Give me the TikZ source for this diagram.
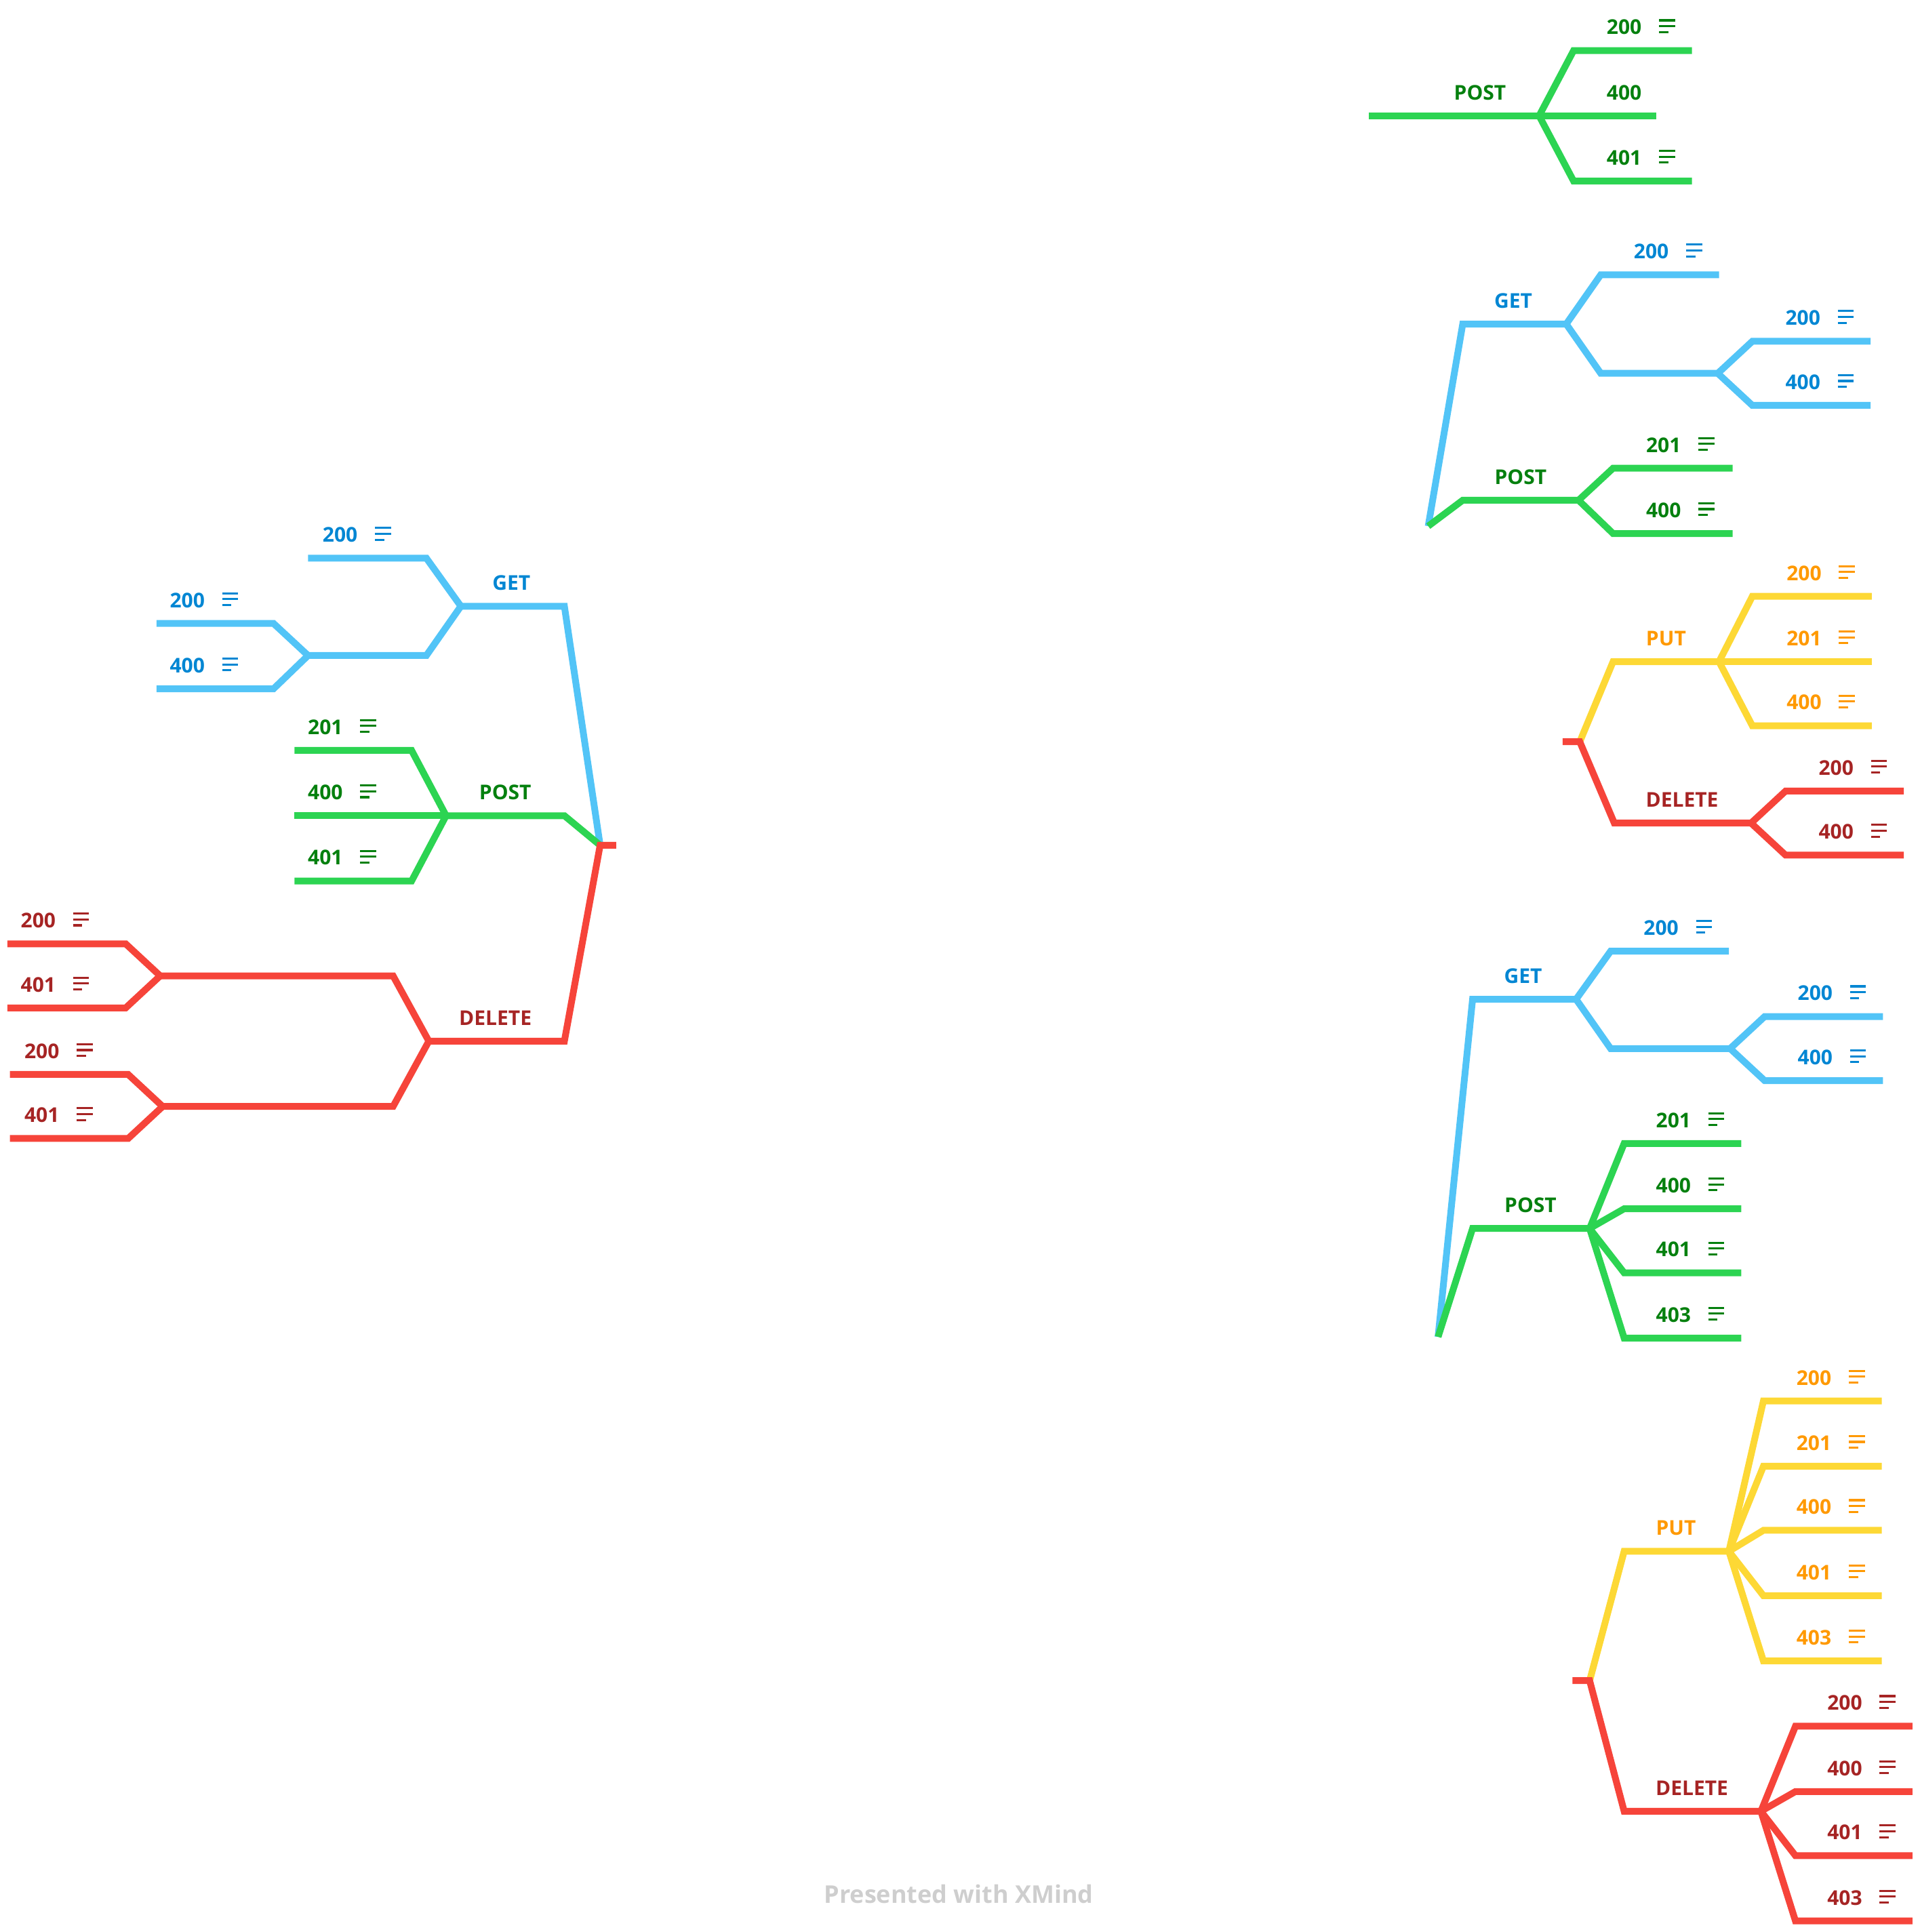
\documentclass[tikz,border=0pt]{standalone}
\usepackage{fontspec}
\setmainfont{Open Sans}
\definecolor{lblue}{RGB}{82,196,247}
\definecolor{lgreen}{RGB}{44,212,82}
\definecolor{lyellow}{RGB}{253,216,53}
\definecolor{lred}{RGB}{246,68,58}
\definecolor{tblue}{RGB}{0,134,211}
\definecolor{tgreen}{RGB}{4,128,14}
\definecolor{torange}{RGB}{255,153,0}
\definecolor{tred}{RGB}{166,36,36}
\definecolor{footgray}{RGB}{206,206,206}

\begin{document}
\begin{tikzpicture}[x=1pt,y=-1pt,line join=miter,
    lbl/.style={font=\fontsize{16.5}{20}\selectfont\bfseries,inner sep=0pt,anchor=base,yshift=-1pt},
    bl/.style={draw=lblue,line width=5.5pt},
    gl/.style={draw=lgreen,line width=5.5pt},
    yl/.style={draw=lyellow,line width=5.5pt},
    rl/.style={draw=lred,line width=5.5pt},
    memo/.pic={\draw[line width=1.7pt] (14,-11.5) -- (27,-11.5) (14,-6.8) -- (27,-6.8) (14,-2) -- (21.5,-2);}]
\useasboundingbox (0,0) rectangle (1558,1568);

% top POST
\coordinate (aRoot) at (1111,94);
\coordinate (aF) at (1249,94);
\draw[gl] (aRoot) -- (aF);
\node[lbl,tgreen] (aPost) at (1201,80) {POST};
\draw[gl] (aF) -- (1277,41) -- (1373,41) coordinate (a200e);
\draw[gl] (aF) -- (1344,94) coordinate (a400e);
\draw[gl] (aF) -- (1277,147) -- (1373,147) coordinate (a401e);
\node[lbl,tgreen] (a200) at (1318,27) {200};
\pic[color=tgreen] at (a200.base east) {memo};
\node[lbl,tgreen] (a400) at (1318,80) {400};
\node[lbl,tgreen] (a401) at (1318,133) {401};
\pic[color=tgreen] at (a401.base east) {memo};

% GET / POST
\coordinate (bRoot) at (1159,427);
\coordinate (bG) at (1271,263);
\coordinate (bG2) at (1394,303);
\coordinate (bP) at (1281,406);
\draw[bl] (bRoot) -- (1187,263) -- (bG);
\node[lbl,tblue] (bGet) at (1228,249) {GET};
\draw[bl] (bG) -- (1299,223) -- (1395,223) coordinate (b200e);
\draw[bl] (bG) -- (1299,303) -- (bG2);
\draw[bl] (bG2) -- (1422,277) -- (1518,277) coordinate (b200xe);
\draw[bl] (bG2) -- (1422,329) -- (1518,329) coordinate (b400xe);
\node[lbl,tblue] (b200) at (1340,209) {200};
\pic[color=tblue] at (b200.base east) {memo};
\node[lbl,tblue] (b200x) at (1463,263) {200};
\pic[color=tblue] at (b200x.base east) {memo};
\node[lbl,tblue] (b400x) at (1463,315) {400};
\pic[color=tblue] at (b400x.base east) {memo};
\draw[gl] (bRoot) -- (1187,406) -- (bP);
\node[lbl,tgreen] (bPost) at (1234,392) {POST};
\draw[gl] (bP) -- (1309,380) -- (1406,380) coordinate (b201e);
\draw[gl] (bP) -- (1309,433) -- (1406,433) coordinate (b400e);
\node[lbl,tgreen] (b201) at (1350,366) {201};
\pic[color=tgreen] at (b201.base east) {memo};
\node[lbl,tgreen] (b400) at (1350,419) {400};
\pic[color=tgreen] at (b400.base east) {memo};

% PUT / DELETE
\coordinate (cTick) at (1268,602);
\coordinate (cRoot) at (1282,602);
\coordinate (cP) at (1395,537);
\coordinate (cD) at (1421,668);
\draw[yl] (cRoot) -- (1309,537) -- (cP);
\node[lbl,torange] (cPut) at (1352,523) {PUT};
\draw[yl] (cP) -- (1422,484) -- (1519,484) coordinate (c200e);
\draw[yl] (cP) -- (1519,537) coordinate (c201e);
\draw[yl] (cP) -- (1422,589) -- (1519,589) coordinate (c400e);
\node[lbl,torange] (c200) at (1464,470) {200};
\pic[color=torange] at (c200.base east) {memo};
\node[lbl,torange] (c201) at (1464,523) {201};
\pic[color=torange] at (c201.base east) {memo};
\node[lbl,torange] (c400) at (1464,575) {400};
\pic[color=torange] at (c400.base east) {memo};
\draw[rl] (cTick) -- (cRoot) -- (1310,668) -- (cD);
\node[lbl,tred] (cDel) at (1365,654) {DELETE};
\draw[rl] (cD) -- (1449,642) -- (1545,642) coordinate (cd200e);
\draw[rl] (cD) -- (1449,694) -- (1545,694) coordinate (cd400e);
\node[lbl,tred] (cd200) at (1490,628) {200};
\pic[color=tred] at (cd200.base east) {memo};
\node[lbl,tred] (cd400) at (1490,680) {400};
\pic[color=tred] at (cd400.base east) {memo};

% GET / POST (lower)
\coordinate (dRoot) at (1167,1085);
\coordinate (dG) at (1279,811);
\coordinate (dG2) at (1404,851);
\coordinate (dP) at (1290,997);
\draw[bl] (dRoot) -- (1195,811) -- (dG);
\node[lbl,tblue] (dGet) at (1236,797) {GET};
\draw[bl] (dG) -- (1307,772) -- (1403,772) coordinate (d200e);
\draw[bl] (dG) -- (1307,851) -- (dG2);
\draw[bl] (dG2) -- (1432,825) -- (1528,825) coordinate (d200xe);
\draw[bl] (dG2) -- (1432,877) -- (1528,877) coordinate (d400xe);
\node[lbl,tblue] (d200) at (1348,758) {200};
\pic[color=tblue] at (d200.base east) {memo};
\node[lbl,tblue] (d200x) at (1473,811) {200};
\pic[color=tblue] at (d200x.base east) {memo};
\node[lbl,tblue] (d400x) at (1473,863) {400};
\pic[color=tblue] at (d400x.base east) {memo};
\draw[gl] (dRoot) -- (1195,997) -- (dP);
\node[lbl,tgreen] (dPost) at (1242,983) {POST};
\draw[gl] (dP) -- (1318,928) -- (1413,928) coordinate (d201e);
\draw[gl] (dP) -- (1318,981) -- (1413,981) coordinate (d400e);
\draw[gl] (dP) -- (1318,1033) -- (1413,1033) coordinate (d401e);
\draw[gl] (dP) -- (1318,1086) -- (1413,1086) coordinate (d403e);
\node[lbl,tgreen] (d201) at (1358,914) {201};
\pic[color=tgreen] at (d201.base east) {memo};
\node[lbl,tgreen] (d400) at (1358,967) {400};
\pic[color=tgreen] at (d400.base east) {memo};
\node[lbl,tgreen] (d401) at (1358,1019) {401};
\pic[color=tgreen] at (d401.base east) {memo};
\node[lbl,tgreen] (d403) at (1358,1072) {403};
\pic[color=tgreen] at (d403.base east) {memo};

% PUT / DELETE (lower)
\coordinate (eTick) at (1276,1364);
\coordinate (eRoot) at (1290,1364);
\coordinate (eP) at (1403,1259);
\coordinate (eD) at (1429,1470);
\draw[yl] (eRoot) -- (1318,1259) -- (eP);
\node[lbl,torange] (ePut) at (1360,1245) {PUT};
\draw[yl] (eP) -- (1431,1137) -- (1527,1137) coordinate (e200e);
\draw[yl] (eP) -- (1431,1190) -- (1527,1190) coordinate (e201e);
\draw[yl] (eP) -- (1431,1242) -- (1527,1242) coordinate (e400e);
\draw[yl] (eP) -- (1431,1295) -- (1527,1295) coordinate (e401e);
\draw[yl] (eP) -- (1431,1348) -- (1527,1348) coordinate (e403e);
\node[lbl,torange] (e200) at (1472,1123) {200};
\pic[color=torange] at (e200.base east) {memo};
\node[lbl,torange] (e201) at (1472,1176) {201};
\pic[color=torange] at (e201.base east) {memo};
\node[lbl,torange] (e400) at (1472,1228) {400};
\pic[color=torange] at (e400.base east) {memo};
\node[lbl,torange] (e401) at (1472,1281) {401};
\pic[color=torange] at (e401.base east) {memo};
\node[lbl,torange] (e403) at (1472,1334) {403};
\pic[color=torange] at (e403.base east) {memo};
\draw[rl] (eTick) -- (eRoot) -- (1318,1470) -- (eD);
\node[lbl,tred] (eDel) at (1373,1456) {DELETE};
\draw[rl] (eD) -- (1457,1401) -- (1552,1401) coordinate (ed200e);
\draw[rl] (eD) -- (1457,1454) -- (1552,1454) coordinate (ed400e);
\draw[rl] (eD) -- (1457,1506) -- (1552,1506) coordinate (ed401e);
\draw[rl] (eD) -- (1457,1559) -- (1552,1559) coordinate (ed403e);
\node[lbl,tred] (ed200) at (1497,1387) {200};
\pic[color=tred] at (ed200.base east) {memo};
\node[lbl,tred] (ed400) at (1497,1440) {400};
\pic[color=tred] at (ed400.base east) {memo};
\node[lbl,tred] (ed401) at (1497,1492) {401};
\pic[color=tred] at (ed401.base east) {memo};
\node[lbl,tred] (ed403) at (1497,1545) {403};
\pic[color=tred] at (ed403.base east) {memo};

% left side
\coordinate (fRoot) at (487,686);
\coordinate (fTick) at (500,686);
\coordinate (fG) at (374,492);
\coordinate (fG2) at (250,532);
\coordinate (fP) at (362,662);
\coordinate (fD) at (348,845);
\coordinate (fD1) at (130,792);
\coordinate (fD2) at (132,898);
\draw[bl] (fRoot) -- (458,492) -- (fG);
\node[lbl,tblue] (fGet) at (415,478) {GET};
\draw[bl] (fG) -- (346,453) -- (250,453) coordinate (f200e);
\draw[bl] (fG) -- (346,532) -- (fG2);
\draw[bl] (fG2) -- (222,506) -- (127,506) coordinate (f200xe);
\draw[bl] (fG2) -- (222,559) -- (127,559) coordinate (f400xe);
\node[lbl,tblue] (f200) at (276,439) {200};
\pic[color=tblue] at (f200.base east) {memo};
\node[lbl,tblue] (f200x) at (152,492) {200};
\pic[color=tblue] at (f200x.base east) {memo};
\node[lbl,tblue] (f400x) at (152,545) {400};
\pic[color=tblue] at (f400x.base east) {memo};
\draw[gl] (fRoot) -- (458,662) -- (fP);
\node[lbl,tgreen] (fPost) at (410,648) {POST};
\draw[gl] (fP) -- (334,609) -- (239,609) coordinate (f201e);
\draw[gl] (fP) -- (239,662) coordinate (f400e);
\draw[gl] (fP) -- (334,715) -- (239,715) coordinate (f401e);
\node[lbl,tgreen] (f201) at (264,595) {201};
\pic[color=tgreen] at (f201.base east) {memo};
\node[lbl,tgreen] (f400) at (264,648) {400};
\pic[color=tgreen] at (f400.base east) {memo};
\node[lbl,tgreen] (f401) at (264,701) {401};
\pic[color=tgreen] at (f401.base east) {memo};
\draw[rl] (fTick) -- (fRoot) -- (458,845) -- (fD);
\node[lbl,tred] (fDel) at (402,831) {DELETE};
\draw[rl] (fD) -- (319,792) -- (fD1);
\draw[rl] (fD) -- (319,898) -- (fD2);
\draw[rl] (fD1) -- (102,766) -- (6,766) coordinate (fd200e);
\draw[rl] (fD1) -- (102,818) -- (6,818) coordinate (fd401e);
\draw[rl] (fD2) -- (104,872) -- (8,872) coordinate (fd200xe);
\draw[rl] (fD2) -- (104,924) -- (8,924) coordinate (fd401xe);
\node[lbl,tred] (fd200) at (31,752) {200};
\pic[color=tred] at (fd200.base east) {memo};
\node[lbl,tred] (fd401) at (31,804) {401};
\pic[color=tred] at (fd401.base east) {memo};
\node[lbl,tred] (fd200x) at (34,858) {200};
\pic[color=tred] at (fd200x.base east) {memo};
\node[lbl,tred] (fd401x) at (34,910) {401};
\pic[color=tred] at (fd401x.base east) {memo};

\node[font=\fontsize{19.8}{24}\selectfont\bfseries,text=footgray] (foot) at (778,1537) {Presented with XMind};
\end{tikzpicture}
\end{document}
